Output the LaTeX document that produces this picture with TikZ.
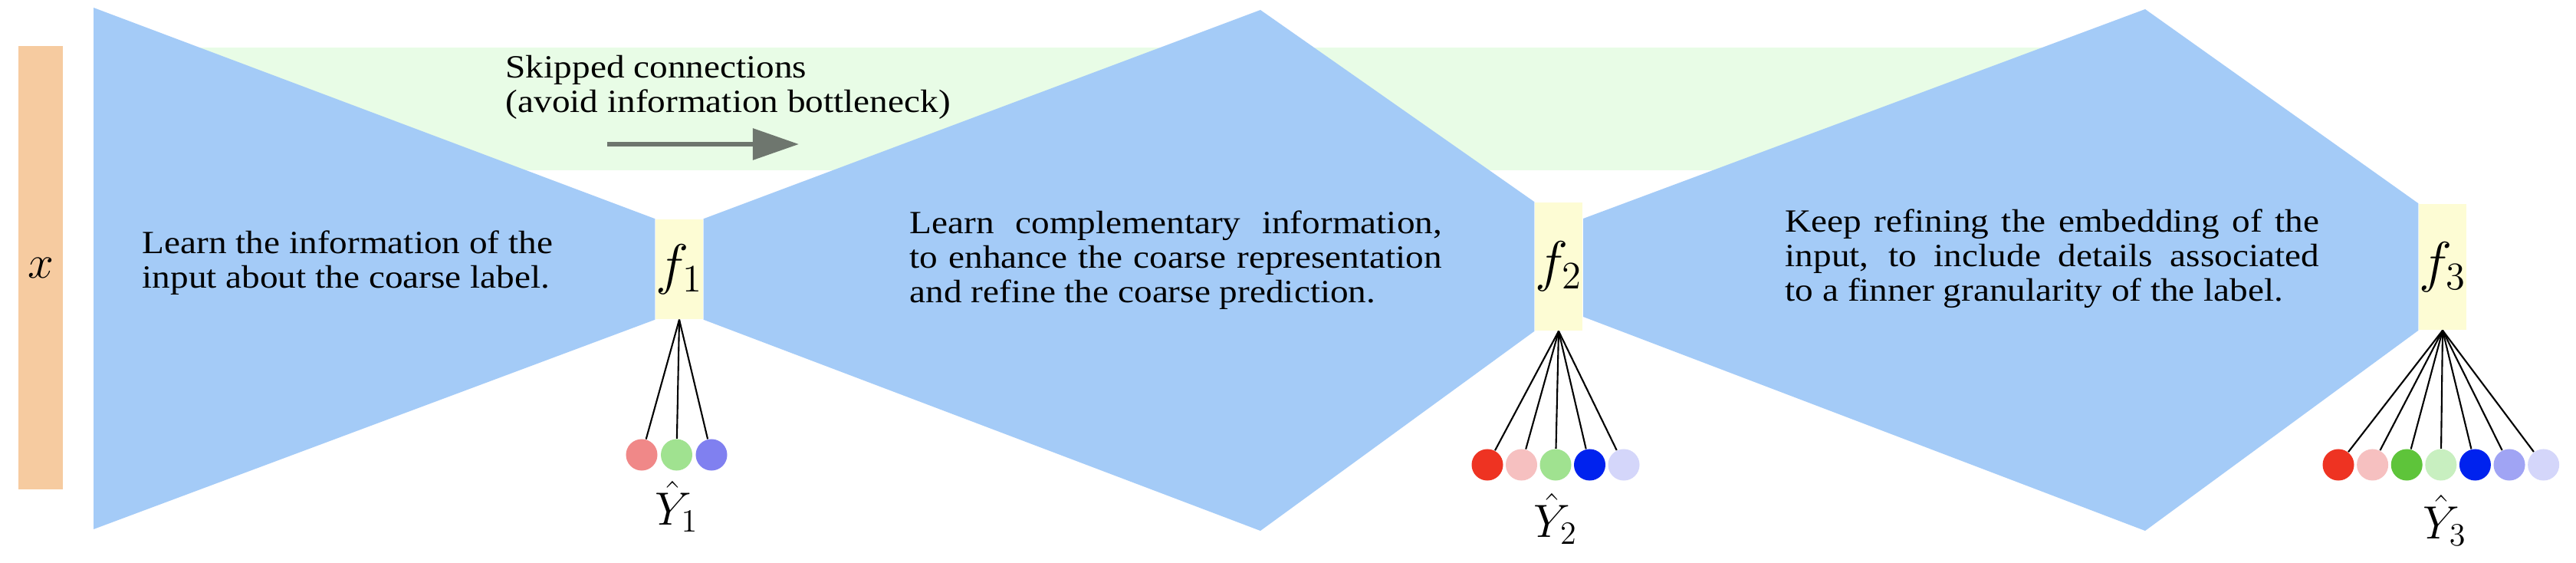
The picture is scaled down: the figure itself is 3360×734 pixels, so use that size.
\documentclass[tikz,border=0pt]{standalone}
\usepackage[no-math]{fontspec}
\setmainfont{Liberation Serif}[FakeStretch=1.12]
\usepackage{amsmath}
\usepackage{xcolor}
\usetikzlibrary{positioning, arrows.meta, backgrounds}

\definecolor{inputorange}{RGB}{246,203,160}
\definecolor{netblue}{RGB}{164,203,247}
\definecolor{skipgreen}{RGB}{232,252,230}
\definecolor{headyellow}{RGB}{253,252,212}
\definecolor{arrowgray}{RGB}{110,118,110}
% label colours
\definecolor{ya}{RGB}{240,136,136}
\definecolor{yb}{RGB}{160,226,144}
\definecolor{yc}{RGB}{128,128,240}
\definecolor{zred}{RGB}{238,51,34}
\definecolor{zpink}{RGB}{246,192,192}
\definecolor{zgreen}{RGB}{94,196,58}
\definecolor{zlgreen}{RGB}{200,239,192}
\definecolor{zblue}{RGB}{0,34,238}
\definecolor{zlav}{RGB}{160,164,244}
\definecolor{zllav}{RGB}{212,214,250}

\begin{document}
\begin{tikzpicture}[
    x=0.01cm, y=-0.01cm,
    >=Stealth,
    every node/.style={font=\fontsize{12}{12.8}\selectfont},
    inputbar/.style={fill=inputorange, draw=none, inner sep=0pt, minimum width=0.58cm, minimum height=5.78cm},
    headbox/.style={fill=headyellow, draw=none, inner sep=0pt, minimum width=0.61cm, font=\fontsize{20.7}{22}\selectfont},
    blurb/.style={anchor=west, inner sep=0pt, font=\fontsize{12}{12.8}\selectfont},
    ydot/.style={circle, draw=none, inner sep=0pt, minimum size=0.41cm},
    ylabel/.style={inner sep=0pt, font=\fontsize{18}{20}\selectfont},
    link/.style={black, line width=0.6pt},
    skiparrow/.style={-{Triangle[length=0.6cm, width=0.4cm]}, line width=1.7pt, arrowgray},
]
\useasboundingbox (0,0) rectangle (3360,734);

% ---- Input ----
\node[inputbar] (input) at (53,349) {};
\node[ylabel] (xlab) at (input) {$x$};

% ---- Heads ----
\node[headbox, minimum height=1.30cm] (f1) at (886,351) {$f_1$};
\node[headbox, minimum height=1.67cm] (f2) at (2033,347.5) {$f_2$};
\node[headbox, minimum height=1.64cm] (f3) at (3186,348) {$f_3$};

% ---- Network stages and skip band ----
\begin{scope}[on background layer]
\fill[white] (0,0) rectangle (3360,734);
\fill[skipgreen] (250,62) rectangle (2798,222);
\fill[netblue] (122,10) -- (f1.north west) -- (f1.south west) -- (122,690) -- cycle;
\fill[netblue] (f1.north east) -- (1644,13) -- (f2.north west) -- (f2.south west)
    -- (1644,692) -- (f1.south east) -- cycle;
\fill[netblue] (2065,285) -- (2798,12) -- (f3.north west) -- (f3.south west)
    -- (2798,692) -- (2065,413) -- cycle;
\end{scope}

% ---- Skip connection note ----
\node[blurb, align=left] (skipnote) at (659,114) {Skipped connections\\(avoid information bottleneck)};
\coordinate (skipfrom) at (792,188);
\coordinate (skipto) at (1042,188);
\draw[skiparrow] (skipfrom) -- (skipto);

% ---- Stage descriptions ----
\node[blurb, align=left] (stage1) at (185,343) {Learn the information of the\\input about the coarse label.};
\node[blurb, text width=6.94cm, align=justify] (stage2) at (1186,339)
    {Learn complementary information,\linebreak to enhance the coarse representation\linebreak and refine the coarse prediction.};
\node[blurb, text width=6.96cm, align=justify] (stage3) at (2328,337)
    {Keep refining the embedding of the\linebreak input, to include details associated\linebreak to a finner granularity of the label.};

% ---- Predictions ----
\foreach \c [count=\i] in {ya,yb,yc} {
    \node[ydot, fill=\c] (y1c\i) at ({837+45.5*(\i-1)},593) {};
    \draw[link] (f1.south) -- (y1c\i);
}
\foreach \c [count=\i] in {zred,zpink,yb,zblue,zllav} {
    \node[ydot, fill=\c] (y2c\i) at ({1940+44.5*(\i-1)},606) {};
    \draw[link] (f2.south) -- (y2c\i);
}
\foreach \c [count=\i] in {zred,zpink,zgreen,zlgreen,zblue,zlav,zllav} {
    \node[ydot, fill=\c] (y3c\i) at ({3050+44.6*(\i-1)},606) {};
    \draw[link] (f3.south) -- (y3c\i);
}

\node[ylabel, below=0.12cm of y1c2] (yhat1) {$\hat{Y}_1$};
\node[ylabel, below=0.15cm of y2c3] (yhat2) {$\hat{Y}_2$};
\node[ylabel, below=0.17cm of y3c4, xshift=0.05cm] (yhat3) {$\hat{Y}_3$};

\end{tikzpicture}
\end{document}
